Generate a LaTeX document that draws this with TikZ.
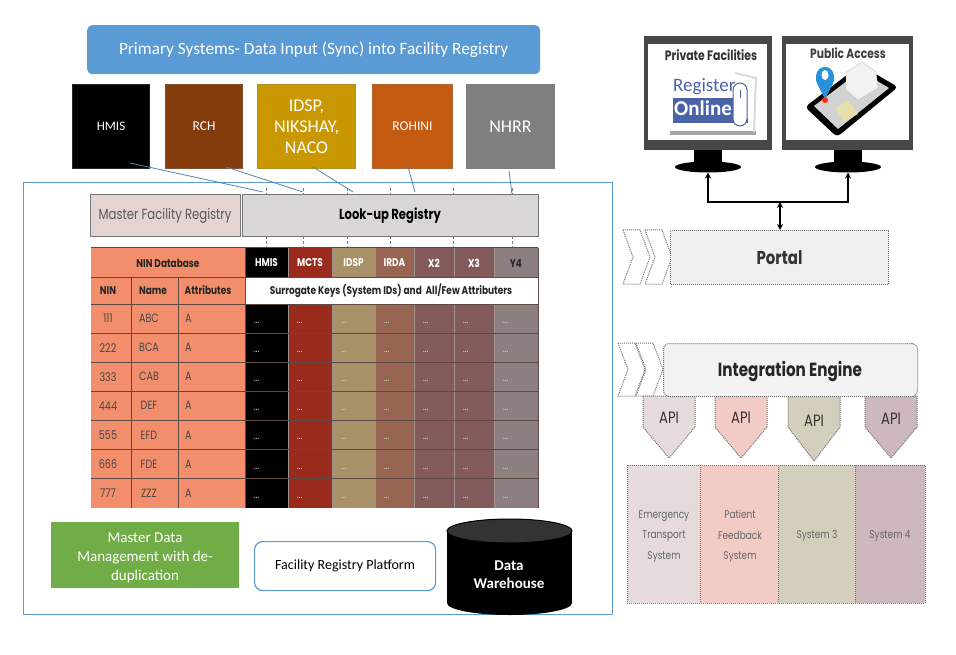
\documentclass[tikz,border=0pt]{standalone}
\usepackage{fontspec}
\setmainfont{Carlito}
\newfontfamily\geo[FakeStretch=0.8]{Poppins}
\usetikzlibrary{arrows.meta,shapes.geometric}
\definecolor{frameblue}{HTML}{5B9BD5}
\definecolor{salmon}{HTML}{F28E6B}
\definecolor{gridline}{HTML}{5E4A42}
\definecolor{cRed}{HTML}{9A2B1C}
\definecolor{cTan}{HTML}{A89068}
\definecolor{cBrown}{HTML}{976551}
\definecolor{cMauve}{HTML}{835B5B}
\definecolor{cGrey}{HTML}{8C7F7F}
\definecolor{dotline}{HTML}{757575}
\definecolor{srcRch}{RGB}{132,60,12}
\definecolor{srcIdsp}{RGB}{201,151,0}
\definecolor{srcRoh}{RGB}{197,90,17}
\definecolor{srcNhrr}{RGB}{127,127,127}
\definecolor{mdmGreen}{RGB}{112,173,71}
\definecolor{masterFill}{HTML}{E3D3D3}
\definecolor{lookFill}{HTML}{D9D6D6}
\definecolor{sysA}{RGB}{229,219,219}
\definecolor{sysB}{RGB}{243,203,197}
\definecolor{sysC}{RGB}{212,207,188}
\definecolor{sysD}{RGB}{205,184,189}
\definecolor{pinBlue}{RGB}{40,145,220}
\definecolor{regBlue}{HTML}{4A63A8}
\tikzset{
  x=1pt,y=-1pt,
  srcbox/.style={draw=#1!70!gray,line width=1pt,fill=#1,text=white,align=center,inner sep=0pt,anchor=north west},
  link/.style={draw=frameblue!85!black,line width=.8pt},
  tick/.style={draw=gray,line width=.8pt,densely dashed},
  gridl/.style={draw=gridline,line width=1pt},
  regbox/.style={draw=dotline,line width=1.4pt,inner sep=0pt,anchor=north west},
  soft/.style={draw=dotline,line width=1pt,densely dotted},
  ttxt/.style={font=\geo\fontsize{12}{14}\selectfont,text=black!72},
  hdr/.style={font=\geo\bfseries\fontsize{11.2}{13}\selectfont,text=#1},
  hdr/.default=black!85,
  dots/.style={font=\geo\fontsize{10}{12}\selectfont,text=white!85!black},
  sys/.style={font=\geo\fontsize{11.2}{20.5}\selectfont,text=black!60,align=center},
  apitxt/.style={font=\geo\fontsize{16.5}{18}\selectfont,text=black!80},
  mon/.style={fill=black!72},
  twoway/.style={line width=1.5pt,{Stealth[length=6pt,width=6pt]}-{Stealth[length=6pt,width=6pt]}},
}
\newcommand{\chev}[3]{\path[soft,fill=white] (#1,#2) -- ++(17,0) -- (#1+27,{(#2+#3)/2}) -- (#1+17,#3) -- (#1,#3) -- (#1+10,{(#2+#3)/2}) -- cycle;}
\newcommand{\apishape}[3]{\path[soft,fill=#3] (#1-26,396) -- (#1+26,396) -- (#1+26,427) -- (#1,#2) -- (#1-26,427) -- cycle;}
\begin{document}
\begin{tikzpicture}
\useasboundingbox (0,0) rectangle (956,655);
\fill[white] (0,0) rectangle (956,655);
% outer frame
\node[draw=frameblue,line width=.8pt,minimum width=589pt,minimum height=432pt,inner sep=0pt,anchor=north west] (frame) at (23,182) {};
% title
\node[fill=frameblue,rounded corners=5pt,minimum width=453pt,minimum height=49pt,inner sep=0pt,anchor=north west,text=white,font=\fontsize{17.3}{19}\selectfont] (title) at (87,25) {Primary Systems- Data Input (Sync) into Facility Registry};
% source systems
\node[srcbox=black,minimum width=77pt,minimum height=84pt,font=\fontsize{13}{15}\selectfont] (hmis) at (72,84) {HMIS};
\node[srcbox=srcRch,minimum width=77pt,minimum height=84pt,font=\fontsize{13.5}{15}\selectfont] (rch) at (165,84) {RCH};
\node[srcbox=srcIdsp,minimum width=98pt,minimum height=84pt,font=\fontsize{18}{21}\selectfont] (idsp) at (257,84) {IDSP,\\NIKSHAY,\\NACO};
\node[srcbox=srcRoh,minimum width=80pt,minimum height=84pt,font=\fontsize{13.5}{15}\selectfont] (rohini) at (372,84) {ROHINI};
\node[srcbox=srcNhrr,minimum width=88pt,minimum height=84pt,font=\fontsize{18}{20}\selectfont] (nhrr) at (466,84) {NHRR};
% registries
\node[regbox,fill=masterFill,minimum width=150pt,minimum height=42pt] (master) at (90,194) {};
\node[regbox,fill=lookFill,minimum width=296pt,minimum height=42pt] (lookup) at (242,194) {};
\node[text=black!65,font=\geo\fontsize{14.6}{16}\selectfont] (mastertxt) at (165,216) {Master Facility Registry};
\node[font=\geo\bfseries\fontsize{14.5}{16}\selectfont] (lookuptxt) at (390,216) {Look-up Registry};
% ticks and connector targets
\foreach \n/\x in {a/266,b/303,c/347,d/390,e/453,f/512}{
  \coordinate (up\n) at (\x,188);
  \coordinate (dn\n) at (\x,248);
  \draw[tick] (up\n) -- (\x,194);
  \draw[tick] (\x,236) -- (dn\n);
}
\coordinate (inA) at (263,192);
\coordinate (inB) at (303,192);
\coordinate (inC) at (353,192);
\coordinate (inD) at (415,192);
\coordinate (inE) at (512,194);
\draw[link] (130,163) -- (inA);
\draw[link] (226,167) -- (inB);
\draw[link] (313,167) -- (inC);
\draw[link] (408,167) -- (inD);
\draw[link] (509,171) -- (inE);
% table fills
\fill[salmon] (91,248) rectangle (245,508);
\foreach \a/\b/\c/\lab/\tc in {245/288/black/HMIS/white,288/332/cRed/MCTS/white,332/375/cTan/IDSP/white,375/414/cBrown/IRDA/white,414/454/cMauve/X2/white,454/494/cMauve/X3/white,494/538/cGrey/Y4/black!85}{
  \fill[\c] (\a,248) rectangle (\b,277);
  \fill[\c] (\a,304) rectangle (\b,508);
  \node[hdr=\tc] (h\lab) at ({(\a+\b)/2},263) {\lab};
  \foreach \r in {0,...,6}{
    \node[dots,anchor=base west,inner sep=0pt] (d\lab\r) at (\a+9,{323.5+\r*29.1}) {...};
  }
}
\fill[white] (245,277) rectangle (538,304);
% grid
\foreach \x in {288,332,375,414,454,494}{
  \draw[gridline!60,line width=.6pt] (\x,248) -- (\x,277);
  \draw[gridline!60,line width=.6pt] (\x,304) -- (\x,508);
}
\foreach \y in {248,277,304,333.1,362.3,391.4,420.6,449.7,478.9}{\draw[gridl] (91,\y) -- (538,\y);}
\foreach \x in {131,178}{\draw[gridl] (\x,277) -- (\x,508);}
\draw[gridl] (245,248) -- (245,508);
\draw[gridl] (538,248) -- (538,508);
\node[hdr] (nindb) at (168,263) {NIN Database};
\node[hdr] (hnin) at (108,290.5) {NIN};
\node[hdr] (hname) at (153,290.5) {Name};
\node[hdr] (hattr) at (208,290.5) {Attributes};
\node[hdr] (surr) at (391,290.5) {Surrogate Keys (System IDs) and\, All/Few Attributers};
\foreach \n/\nm [count=\r from 0] in {111/ABC,222/BCA,333/CAB,444/DEF,555/EFD,666/FDE,777/ZZZ}{
  \node[ttxt] (n\n) at (108,{318.5+\r*29.1}) {\n};
  \node[ttxt] (m\n) at (149,{318.5+\r*29.1}) {\nm};
  \node[ttxt,anchor=west,inner sep=0pt] (a\n) at (185,{318.5+\r*29.1}) {A};
}
% bottom-left boxes
\node[fill=mdmGreen,minimum width=188pt,minimum height=66pt,inner sep=0pt,anchor=north west] (mdm) at (51,522) {};
\node[text=white,align=center,inner sep=0pt,font=\fontsize{15}{19}\selectfont] (mdmtxt) at (145,557.5) {Master Data\\Management with de-\\duplication};
\node[draw=frameblue,line width=1.2pt,fill=white,rounded corners=8pt,minimum width=181pt,minimum height=49pt,inner sep=0pt,anchor=north west,font=\fontsize{14}{16}\selectfont] (platform) at (254,541) {Facility Registry Platform};
% data warehouse cylinder
\fill[black] (509.5,603) ellipse[x radius=62.5,y radius=12];
\fill[black] (447,531) rectangle (572,603);
\draw[black,line width=1pt,fill=black!80] (509.5,531) ellipse[x radius=62.5,y radius=12];
\node[text=white,align=center,font=\bfseries\fontsize{15}{18}\selectfont] (dwtxt) at (509,574.5) {Data\\Warehouse};
% monitors
\foreach \nm/\l/\r/\c in {pf/644/772/708,pa/782/913/848}{
  \fill[mon] (\l,36) rectangle (\r,150);
  \fill[black] (\c-14,150) rectangle (\c+14,166);
  \fill[black] (\c,167) ellipse[x radius=33,y radius=5.5];
  \coordinate (base\nm) at (\c,172.5);
}
\node[fill=white,minimum width=119pt,minimum height=96pt,inner sep=0pt,anchor=north west] (scr1) at (648,44) {};
\node[fill=white,minimum width=123pt,minimum height=96pt,inner sep=0pt,anchor=north west] (scr2) at (786,44) {};
% register online graphic
\fill[black!35] (670,131) rectangle (756,135);
\draw[black!15,line width=2pt] (754,132) -- (756,78) -- (735,73);
\fill[regBlue] (673,98) rectangle (733,118);
\fill[regBlue] (673,118) rectangle (748,123);
\node[font=\fontsize{19}{22}\selectfont,text=regBlue,inner sep=0pt,anchor=west] (regt) at (673,87) {Register};
\node[font=\bfseries\fontsize{21}{24}\selectfont,text=white,inner sep=0pt,anchor=west] (onl) at (674,108) {Online};
\draw[regBlue,fill=white,line width=1pt,rounded corners=7pt] (733,83) rectangle (747,126);
\draw[regBlue,line width=1pt] (740,90) -- (740,98);
% phone graphic
\path[fill=black,rounded corners=4pt] (805,107) -- (860,65) -- (898,87) -- (837,137) -- cycle;
\path[fill=gray!35] (814,106) -- (860,71) -- (889,88) -- (838,129) -- cycle;
\path[fill=yellow!50!gray!50] (835,108) -- (848,100) -- (858,114) -- (844,122) -- cycle;
\path[fill=gray!10,draw=gray!45] (846,72) -- (862,62) -- (876,72) -- (878,88) -- (858,100) -- (846,90) -- cycle;
\fill[red!70!orange] (825,100) circle[radius=3];
\fill[pinBlue] (825,99) .. controls (818,85) and (815,82) .. (816,76) .. controls (817,64) and (833,64) .. (834,76) .. controls (835,82) and (832,85) .. (825,99) -- cycle;
\fill[white] (825,75) ellipse[x radius=3.5,y radius=5];
\node[font=\geo\bfseries\fontsize{13.6}{15}\selectfont,text=black!80] (pftxt) at (711,55) {Private Facilities};
\node[font=\geo\bfseries\fontsize{13.4}{15}\selectfont,text=black!75] (patxt) at (848,53) {Public Access};
% portal
\chev{623}{230}{284}
\chev{645}{230}{284}
\node[soft,fill=black!6,minimum width=218pt,minimum height=54pt,inner sep=0pt,anchor=north west,font=\geo\bfseries\fontsize{18.7}{20}\selectfont,text=black!80] (portal) at (670,230) {Portal};
\coordinate (jn) at (780,202);
\draw[twoway] (basepf) |- (jn) -| (basepa);
\draw[twoway] (jn) -- (portal.north -| jn);
% integration engine
\chev{618}{343}{396}
\chev{636}{343}{396}
\apishape{669}{458}{sysA}
\apishape{741}{458}{sysB}
\apishape{814}{461}{sysC}
\apishape{891}{458}{sysD}
\node[apitxt] (api1) at (669,418) {API};
\node[apitxt] (api2) at (741,418) {API};
\node[apitxt] (api3) at (814,421) {API};
\node[apitxt] (api4) at (891,419) {API};
\node[soft,fill=black!5,rounded corners=6pt,minimum width=254pt,minimum height=53pt,inner sep=0pt,anchor=north west] (engine) at (663,343) {};
\node[font=\geo\bfseries\fontsize{19}{21}\selectfont,text=black!85] (enginetxt) at (790,372) {Integration Engine};
% systems
\fill[sysA] (627,465) rectangle (700,603);
\fill[sysB] (700,465) rectangle (778,603);
\fill[sysC] (778,465) rectangle (855,603);
\fill[sysD] (855,465) rectangle (925,603);
\draw[soft] (627,465) rectangle (925,603);
\foreach \x in {700,778,855}{\draw[soft] (\x,465) -- (\x,603);}
\node[sys] (s1) at (664,536.5) {Emergency\\Transport\\System};
\node[sys] (s2) at (740,536.5) {Patient\\Feedback\\System};
\node[sys] (s3) at (817,536) {System 3};
\node[sys] (s4) at (890,536) {System 4};
\end{tikzpicture}
\end{document}
